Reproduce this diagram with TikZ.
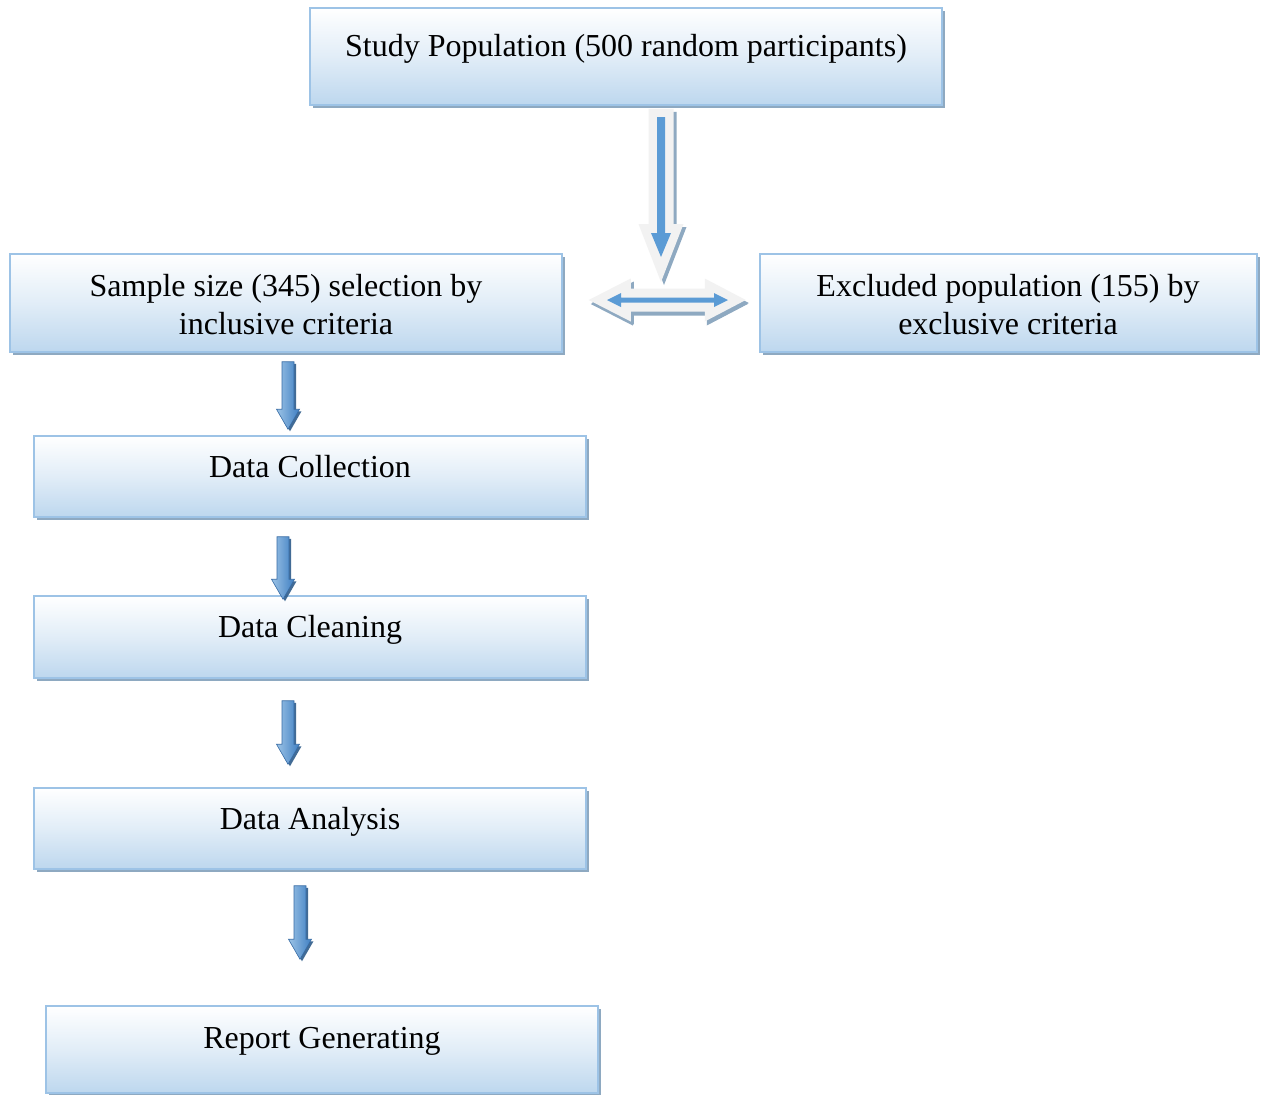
\documentclass[tikz,border=0pt]{standalone}
\usepackage{fontspec}
\setmainfont{Liberation Serif}
\usetikzlibrary{shadows,calc}
\definecolor{bxbot}{HTML}{BDD7EE}
\definecolor{bxline}{HTML}{9DC3E6}
\definecolor{shad}{HTML}{8EA9C1}
\definecolor{arrL}{HTML}{9CC3E6}
\definecolor{arrR}{HTML}{3F7EC2}
\definecolor{arrdark}{HTML}{2E5C8A}
\definecolor{arrblue}{HTML}{5B9BD5}
\definecolor{ghost}{HTML}{F2F2F2}
\newcommand\smalldownarrow[2]{%
  \path[smallarrow] ($(#1)+(-6,0)$) -- ($(#1)+(6,0)$) -- ($(#2)+(6,-20)$) -- ($(#2)+(11.5,-20)$)
    -- (#2) -- ($(#2)+(-11.5,-20)$) -- ($(#2)+(-6,-20)$) -- cycle;}
\begin{document}
\begin{tikzpicture}[x=1pt,y=-1pt,
  box/.style={rectangle, draw=bxline, line width=1.5pt, inner sep=0pt,
    top color=white, bottom color=bxbot, middle color=white!55!bxbot,
    drop shadow={shadow xshift=3pt, shadow yshift=-3pt, fill=shad, opacity=1}},
  txt/.style={font=\fontsize{32}{38}\selectfont, inner sep=0pt, anchor=base},
  smallarrow/.style={left color=arrL, right color=arrR, draw=arrR!85!black, line width=0.6pt,
    drop shadow={shadow xshift=2pt, shadow yshift=-2pt, fill=arrdark, opacity=.9}},
  ghostarrow/.style={fill=ghost,
    drop shadow={shadow xshift=3pt, shadow yshift=-3pt, fill=shad, opacity=1}},
  bluearrow/.style={fill=arrblue}
]
\useasboundingbox[fill=white] (0,0) rectangle (1264,1095);

% boxes
\node[box, minimum width=632pt, minimum height=97pt] (pop) at (626,56.5) {};
\node[box, minimum width=552pt, minimum height=98pt] (sample) at (286,303) {};
\node[box, minimum width=497pt, minimum height=98pt] (excl) at (1008.5,303) {};
\node[box, minimum width=552pt, minimum height=81pt] (coll) at (310,476.5) {};
\node[box, minimum width=552pt, minimum height=82pt] (clean) at (310,637) {};
\node[box, minimum width=552pt, minimum height=81pt] (anal) at (310,828.5) {};
\node[box, minimum width=552pt, minimum height=87pt] (rep) at (322,1049.5) {};

% texts
\node[txt] (tpop) at (626,56) {Study Population (500 random participants)};
\node[txt] (tsa) at (286,296) {Sample size (345) selection by};
\node[txt] (tsb) at (286,334) {inclusive criteria};
\node[txt] (tea) at (1008,296) {Excluded population (155) by};
\node[txt] (teb) at (1008,334) {exclusive criteria};
\node[txt] (tcoll) at (310,477) {Data Collection};
\node[txt] (tclean) at (310,637) {Data Cleaning};
\node[txt] (tanal) at (310,829) {Data Analysis};
\node[txt] (trep) at (322,1048) {Report Generating};

% big down arrow (pop -> split)
\coordinate (ds) at ($(pop.south)+(35,3)$);
\coordinate (de) at (661,282);
\path[ghostarrow] ($(ds)+(-12.5,0)$) -- ($(ds)+(12.5,0)$) -- ($(de)+(12.5,-58)$) -- ($(de)+(22.5,-58)$)
  -- (de) -- ($(de)+(-22.5,-58)$) -- ($(de)+(-12.5,-58)$) -- cycle;
\coordinate (dis) at (661,117);
\coordinate (die) at (661,257);
\path[bluearrow] ($(dis)+(-4,0)$) -- ($(dis)+(4,0)$) -- ($(die)+(4,-24)$) -- ($(die)+(10,-24)$)
  -- (die) -- ($(die)+(-10,-24)$) -- ($(die)+(-4,-24)$) -- cycle;

% double arrow (sample <-> excluded)
\coordinate (hl) at ($(sample.east)+(26,-3)$);
\coordinate (hr) at ($(excl.west)+(-13.5,-3)$);
\path[ghostarrow, drop shadow={shadow xshift=2pt, shadow yshift=-4pt, fill=shad, opacity=1}]
  (hl) -- ($(hl)+(42,-21.5)$) -- ($(hl)+(42,-11.5)$) -- ($(hr)+(-41,-11.5)$) -- ($(hr)+(-41,-21.5)$)
  -- (hr) -- ($(hr)+(-41,21.5)$) -- ($(hr)+(-41,11.5)$) -- ($(hl)+(42,11.5)$) -- ($(hl)+(42,21.5)$) -- cycle;
\coordinate (hil) at (607,300);
\coordinate (hir) at (728,300);
\path[bluearrow]
  (hil) -- ($(hil)+(14,-7)$) -- ($(hil)+(14,-2.5)$) -- ($(hir)+(-14,-2.5)$) -- ($(hir)+(-14,-7)$)
  -- (hir) -- ($(hir)+(-14,7)$) -- ($(hir)+(-14,2.5)$) -- ($(hil)+(14,2.5)$) -- ($(hil)+(14,7)$) -- cycle;

% small down arrows
\coordinate (a1s) at ($(sample.south)+(2,9)$);
\coordinate (a1e) at ($(coll.north)+(-22,-6)$);
\smalldownarrow{a1s}{a1e}
\coordinate (a2s) at ($(coll.south)+(-27,19)$);
\coordinate (a2e) at ($(clean.north)+(-27,4)$);
\smalldownarrow{a2s}{a2e}
\coordinate (a3s) at ($(clean.south)+(-22,22)$);
\coordinate (a3e) at ($(anal.north)+(-22,-23)$);
\smalldownarrow{a3s}{a3e}
\coordinate (a4s) at ($(anal.south)+(-10,16)$);
\coordinate (a4e) at ($(rep.north)+(-22,-46)$);
\smalldownarrow{a4s}{a4e}
\end{tikzpicture}
\end{document}
